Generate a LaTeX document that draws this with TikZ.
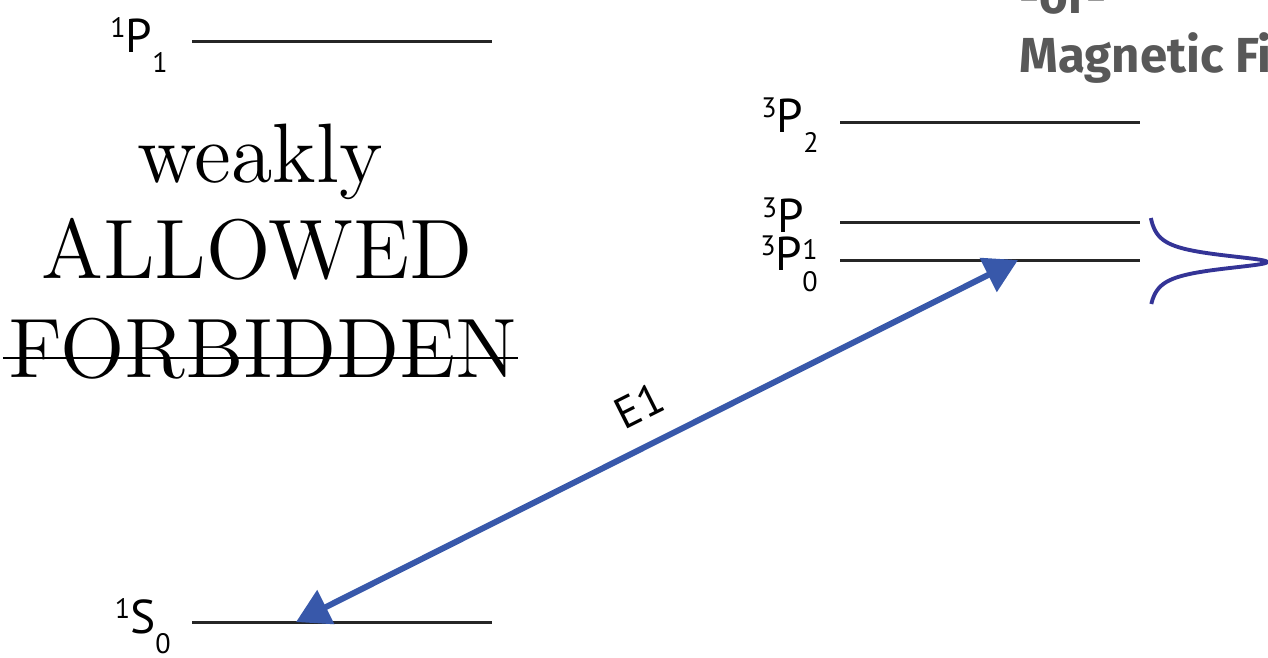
\documentclass[tikz,border=0pt]{standalone}
\usepackage{fontspec}
\newfontfamily\labelfont{PT Sans}
\newfontfamily\titlefont{Fira Sans}
\newfontfamily\bigfont{lmroman12-regular.otf}
\usetikzlibrary{arrows.meta}
\definecolor{e1blue}{RGB}{56,88,170}
\definecolor{lineblue}{RGB}{52,52,150}
\definecolor{titlegray}{RGB}{88,88,88}
\newcommand{\digs}{\fontsize{16}{16}\selectfont}
\newcommand{\lvl}[3]{\raisebox{8pt}{\digs #1}#2\raisebox{-11.5pt}{\digs #3}}

\begin{document}
\begin{tikzpicture}[
    x=0.02cm, y=-0.02cm,
    level/.style={line width=1.7pt, draw=black!85},
    term/.style={inner sep=0pt, anchor=base east, font=\labelfont\fontsize{27}{27}\selectfont},
    big/.style={inner sep=0pt, anchor=base, font=\bigfont\fontsize{48}{48}\selectfont},
    e1arrow/.style={{Triangle[length=19pt,width=21pt]}-{Triangle[length=19pt,width=21pt]}, line width=3.4pt, draw=e1blue},
    title/.style={inner sep=0pt, anchor=base west, text=titlegray, font=\titlefont\bfseries\fontsize{28}{28}\selectfont}
]
\path[use as bounding box, clip] (0,0) rectangle (1268,657);

\coordinate (p1a) at (192,41);
\coordinate (p1b) at (492,41);
\coordinate (s0a) at (192,622);
\coordinate (s0b) at (492,622);
\coordinate (tp2a) at (840,122);
\coordinate (tp2b) at (1140,122);
\coordinate (tp1a) at (840,222);
\coordinate (tp1b) at (1140,222);
\coordinate (tp0a) at (840,260);
\coordinate (tp0b) at (1140,260);
\coordinate (s0hit) at (296,622);
\coordinate (tp0hit) at (1018,260);

\draw[level] (p1a) -- (p1b);
\draw[level] (s0a) -- (s0b);
\draw[level] (tp2a) -- (tp2b);
\draw[level] (tp1a) -- (tp1b);
\draw[level] (tp0a) -- (tp0b);

\node[term] (p1lab) at (168,52) {\lvl{1}{P}{1}};
\node[term] (s0lab) at (171,633) {\lvl{1}{S}{0}};
\node[term] (tp2lab) at (819,132) {\lvl{3}{P}{2}};
\node[term] (tp1lab) at (804,232) {\raisebox{8pt}{\digs 3}P};
\node[term] (tp0lab) at (818,270) {\raisebox{8pt}{\digs 3}P\rlap{\raisebox{6pt}{\digs 1}}\raisebox{-12.5pt}{\digs 0}};

\node[big] (weakly) at (260,182) {weakly};
\node[big] (allowed) at (257,278) {ALLOWED};
\node[big] (forbidden) at (263,377) {FORBIDDEN};
\draw[line width=1.6pt] ([xshift=-3pt, yshift=10.8pt]forbidden.base west) -- ([yshift=10.8pt]forbidden.base east);

\draw[e1arrow] (s0hit) -- node[sloped, above=12pt, pos=0.5, inner sep=0pt, font=\labelfont\fontsize{25}{25}\selectfont] (e1lab) {E1} (tp0hit);

\draw[lineblue, line width=2.2pt] plot[domain=218:304, samples=200, variable=\t] ({1146+121/(1+((\t-262)/9)^2)}, \t);

\node[title] (ortext) at (1019,13) {-or-};
\node[title] (magtext) at (1019,72) {Magnetic Field};
\end{tikzpicture}
\end{document}
